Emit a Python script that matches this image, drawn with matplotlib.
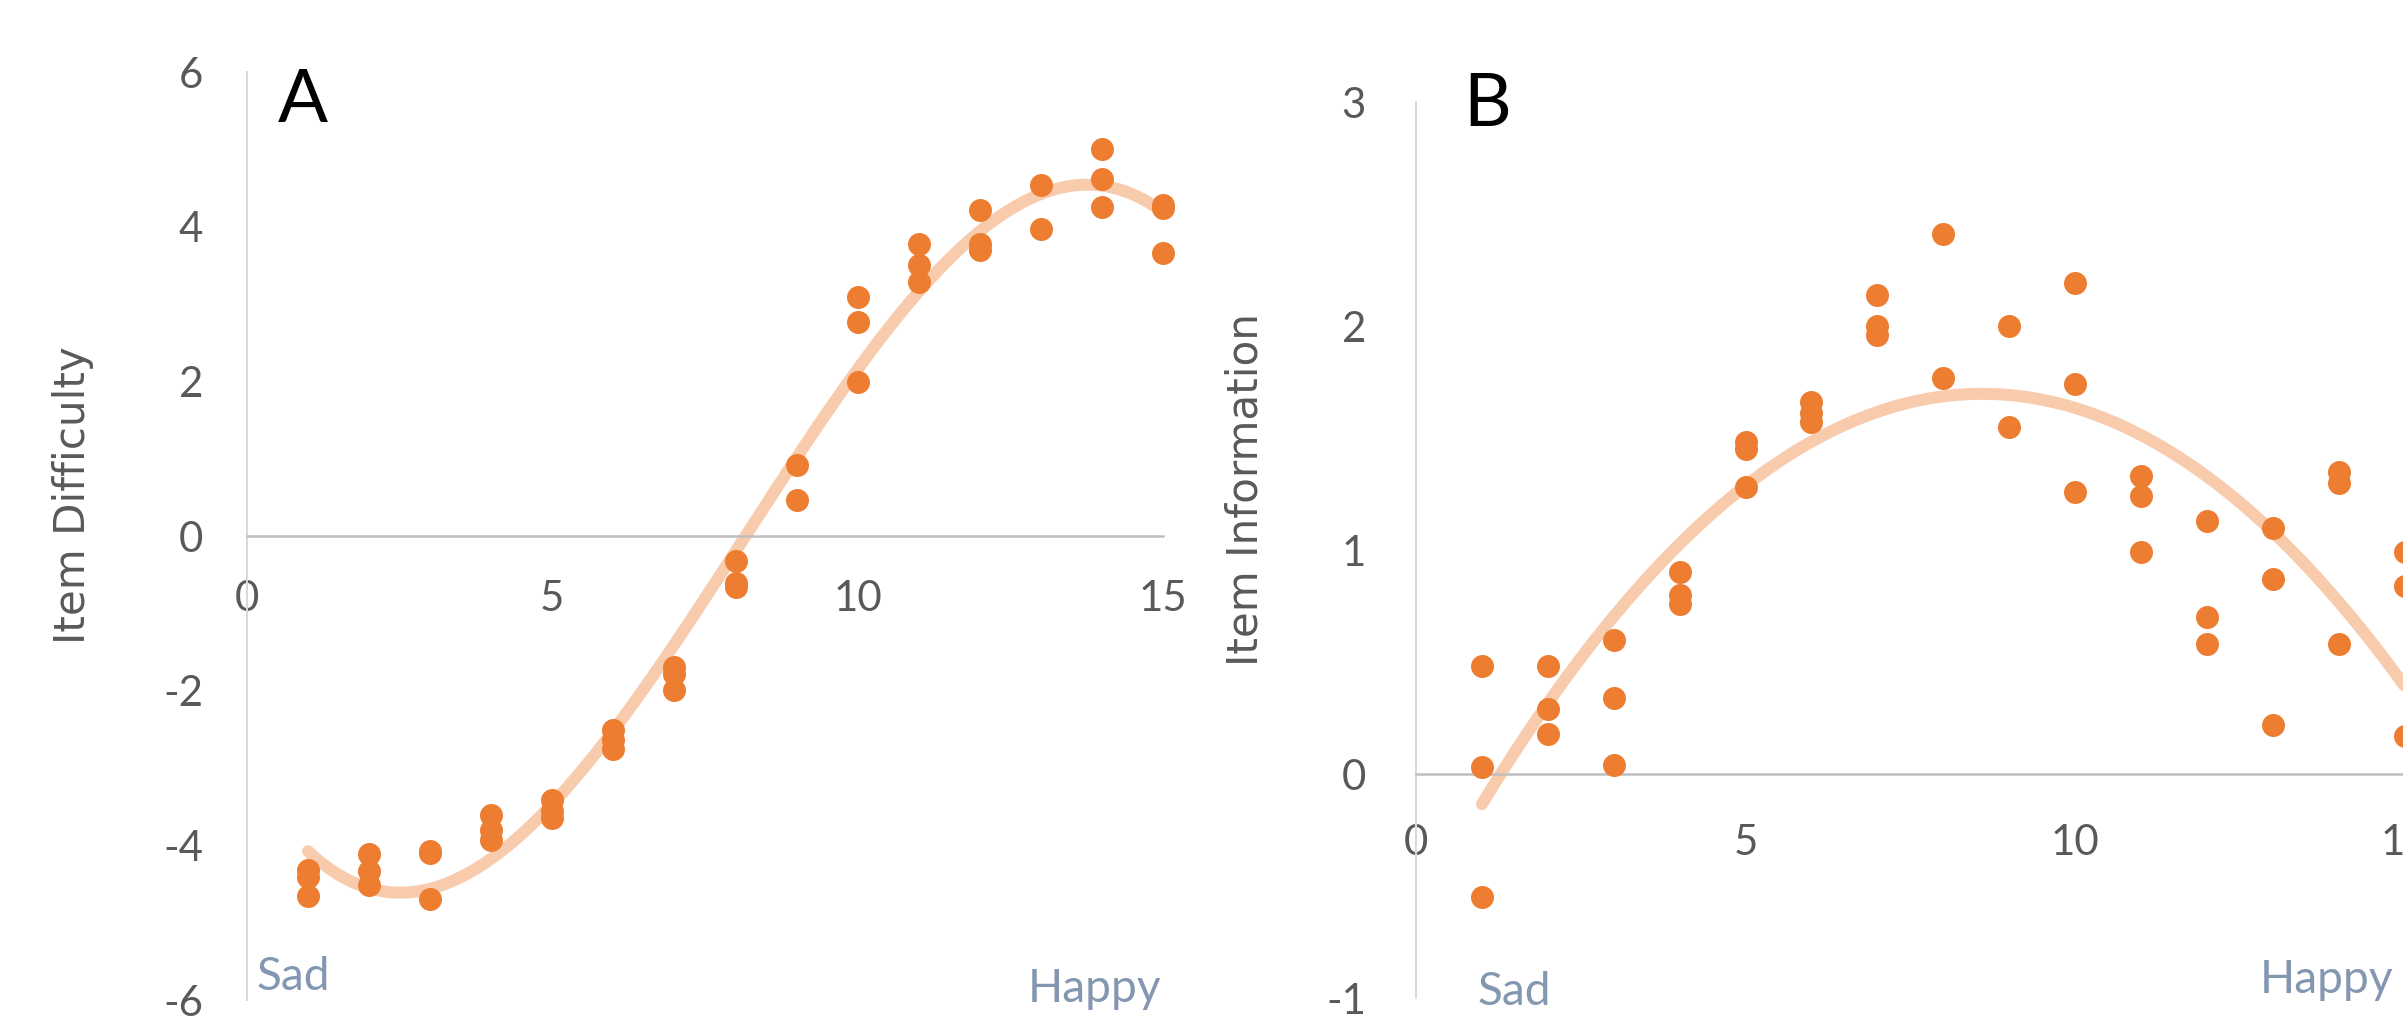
import numpy as np
import matplotlib
matplotlib.use("Agg")
import matplotlib.pyplot as plt

plt.rcParams['font.family'] = ['Lato', 'DejaVu Sans']
plt.rcParams['axes.unicode_minus'] = False

# Panel A: item difficulty by position on the sad-happy scale
diff_x = [1, 1, 1, 2, 2, 2, 3, 3, 3, 4, 4, 4, 5, 5, 5, 6, 6, 6, 7, 7, 7,
          8, 8, 8, 9, 9, 10, 10, 10, 11, 11, 11, 12, 12, 12, 13, 13,
          14, 14, 14, 15, 15, 15]
diff_y = [-4.32, -4.41, -4.66, -4.11, -4.33, -4.51, -4.07, -4.10, -4.69,
          -3.61, -3.80, -3.93, -3.41, -3.56, -3.65, -2.51, -2.64, -2.75,
          -1.70, -1.78, -1.99, -0.32, -0.61, -0.66, 0.92, 0.47,
          3.09, 2.77, 1.99, 3.78, 3.50, 3.29, 4.21, 3.78, 3.70, 4.54, 3.97,
          5.01, 4.62, 4.26, 4.28, 4.24, 3.66]

# Panel B: item information
info_x = [1, 1, 1, 2, 2, 2, 3, 3, 3, 4, 4, 4, 5, 5, 5, 6, 6, 6, 7, 7, 7,
          8, 8, 9, 9, 10, 10, 10, 11, 11, 11, 12, 12, 12, 13, 13, 13,
          14, 14, 14, 15, 15, 15]
info_y = [0.48, 0.03, -0.55, 0.48, 0.29, 0.18, 0.60, 0.34, 0.04,
          0.90, 0.80, 0.76, 1.48, 1.45, 1.28, 1.66, 1.61, 1.57,
          2.14, 2.00, 1.96, 2.41, 1.77, 2.00, 1.55, 2.19, 1.74, 1.26,
          1.33, 1.24, 0.99, 1.13, 0.70, 0.58, 1.10, 0.87, 0.22,
          1.35, 1.30, 0.58, 0.99, 0.84, 0.17]

x_ticks = [0, 5, 10, 15]
diff_ticks = [-6, -4, -2, 0, 2, 4, 6]
info_ticks = [-1, 0, 1, 2, 3]

W, H = 2403, 1017
DPI = 72
fig = plt.figure(figsize=(W / DPI, H / DPI), dpi=DPI)
fig.patch.set_facecolor('white')

DOT = '#ED7D31'
TREND = '#F8CBAD'
TICK = '#595959'
NOTE = '#8497B0'


def rect(x0, x1, ytop, ybot):
    return [x0 / W, 1 - ybot / H, (x1 - x0) / W, (ybot - ytop) / H]


def style(ax, ylim, yticks, ypad, xpad):
    ax.set_xlim(0, 15)
    ax.set_ylim(*ylim)
    ax.set_xticks(x_ticks)
    ax.set_yticks(yticks)
    for s in ('top', 'right'):
        ax.spines[s].set_visible(False)
    ax.spines['left'].set_color('#D9D9D9')
    ax.spines['left'].set_linewidth(2)
    ax.spines['bottom'].set_position(('data', 0))
    ax.spines['bottom'].set_color('#BFBFBF')
    ax.spines['bottom'].set_linewidth(2.5)
    ax.tick_params(axis='y', length=0, pad=ypad, labelsize=42, labelcolor=TICK)
    ax.tick_params(axis='x', length=0, pad=xpad, labelsize=42, labelcolor=TICK)
    ax.set_facecolor('none')


def trend(ax, xs, ys, deg):
    coef = np.polyfit(xs, ys, deg)
    xx = np.linspace(min(xs), max(xs), 300)
    ax.plot(xx, np.polyval(coef, xx), color=TREND, lw=12,
            solid_capstyle='round', zorder=2, clip_on=False)


axA = fig.add_axes(rect(247, 1163, 72, 1000))
style(axA, (-6, 6), diff_ticks, 44, 44)
trend(axA, diff_x, diff_y, 3)
axA.scatter(diff_x, diff_y, s=23 ** 2, color=DOT, linewidths=0, zorder=3,
            clip_on=False)

axB = fig.add_axes(rect(1416, 2404.5, 102, 998))
style(axB, (-1, 3), info_ticks, 50, 50)
trend(axB, info_x, info_y, 2)
axB.scatter(info_x, info_y, s=23 ** 2, color=DOT, linewidths=0, zorder=3,
            clip_on=False)


def ftext(x, y, s, **kw):
    fig.text(x / W, 1 - y / H, s, **kw)


ftext(278, 122, 'A', fontsize=74, color='black', ha='left', va='baseline')
ftext(1463, 126, 'B', fontsize=74, color='black', ha='left', va='baseline')

ftext(85, 495, 'Item Difficulty', fontsize=42, color=TICK, rotation=90,
      rotation_mode='anchor', ha='center', va='baseline',
      family='DejaVu Sans')
ftext(1258, 489, 'Item Information', fontsize=42, color=TICK, rotation=90,
      rotation_mode='anchor', ha='center', va='baseline',
      family='DejaVu Sans')

ftext(257, 990, 'Sad', fontsize=46, color=NOTE, ha='left', va='baseline')
ftext(1028, 1002, 'Happy', fontsize=46, color=NOTE, ha='left', va='baseline')
ftext(1478, 1005, 'Sad', fontsize=46, color=NOTE, ha='left', va='baseline')
ftext(2260, 993, 'Happy', fontsize=46, color=NOTE, ha='left', va='baseline')

fig.savefig('out.png', dpi=DPI, facecolor='white')
